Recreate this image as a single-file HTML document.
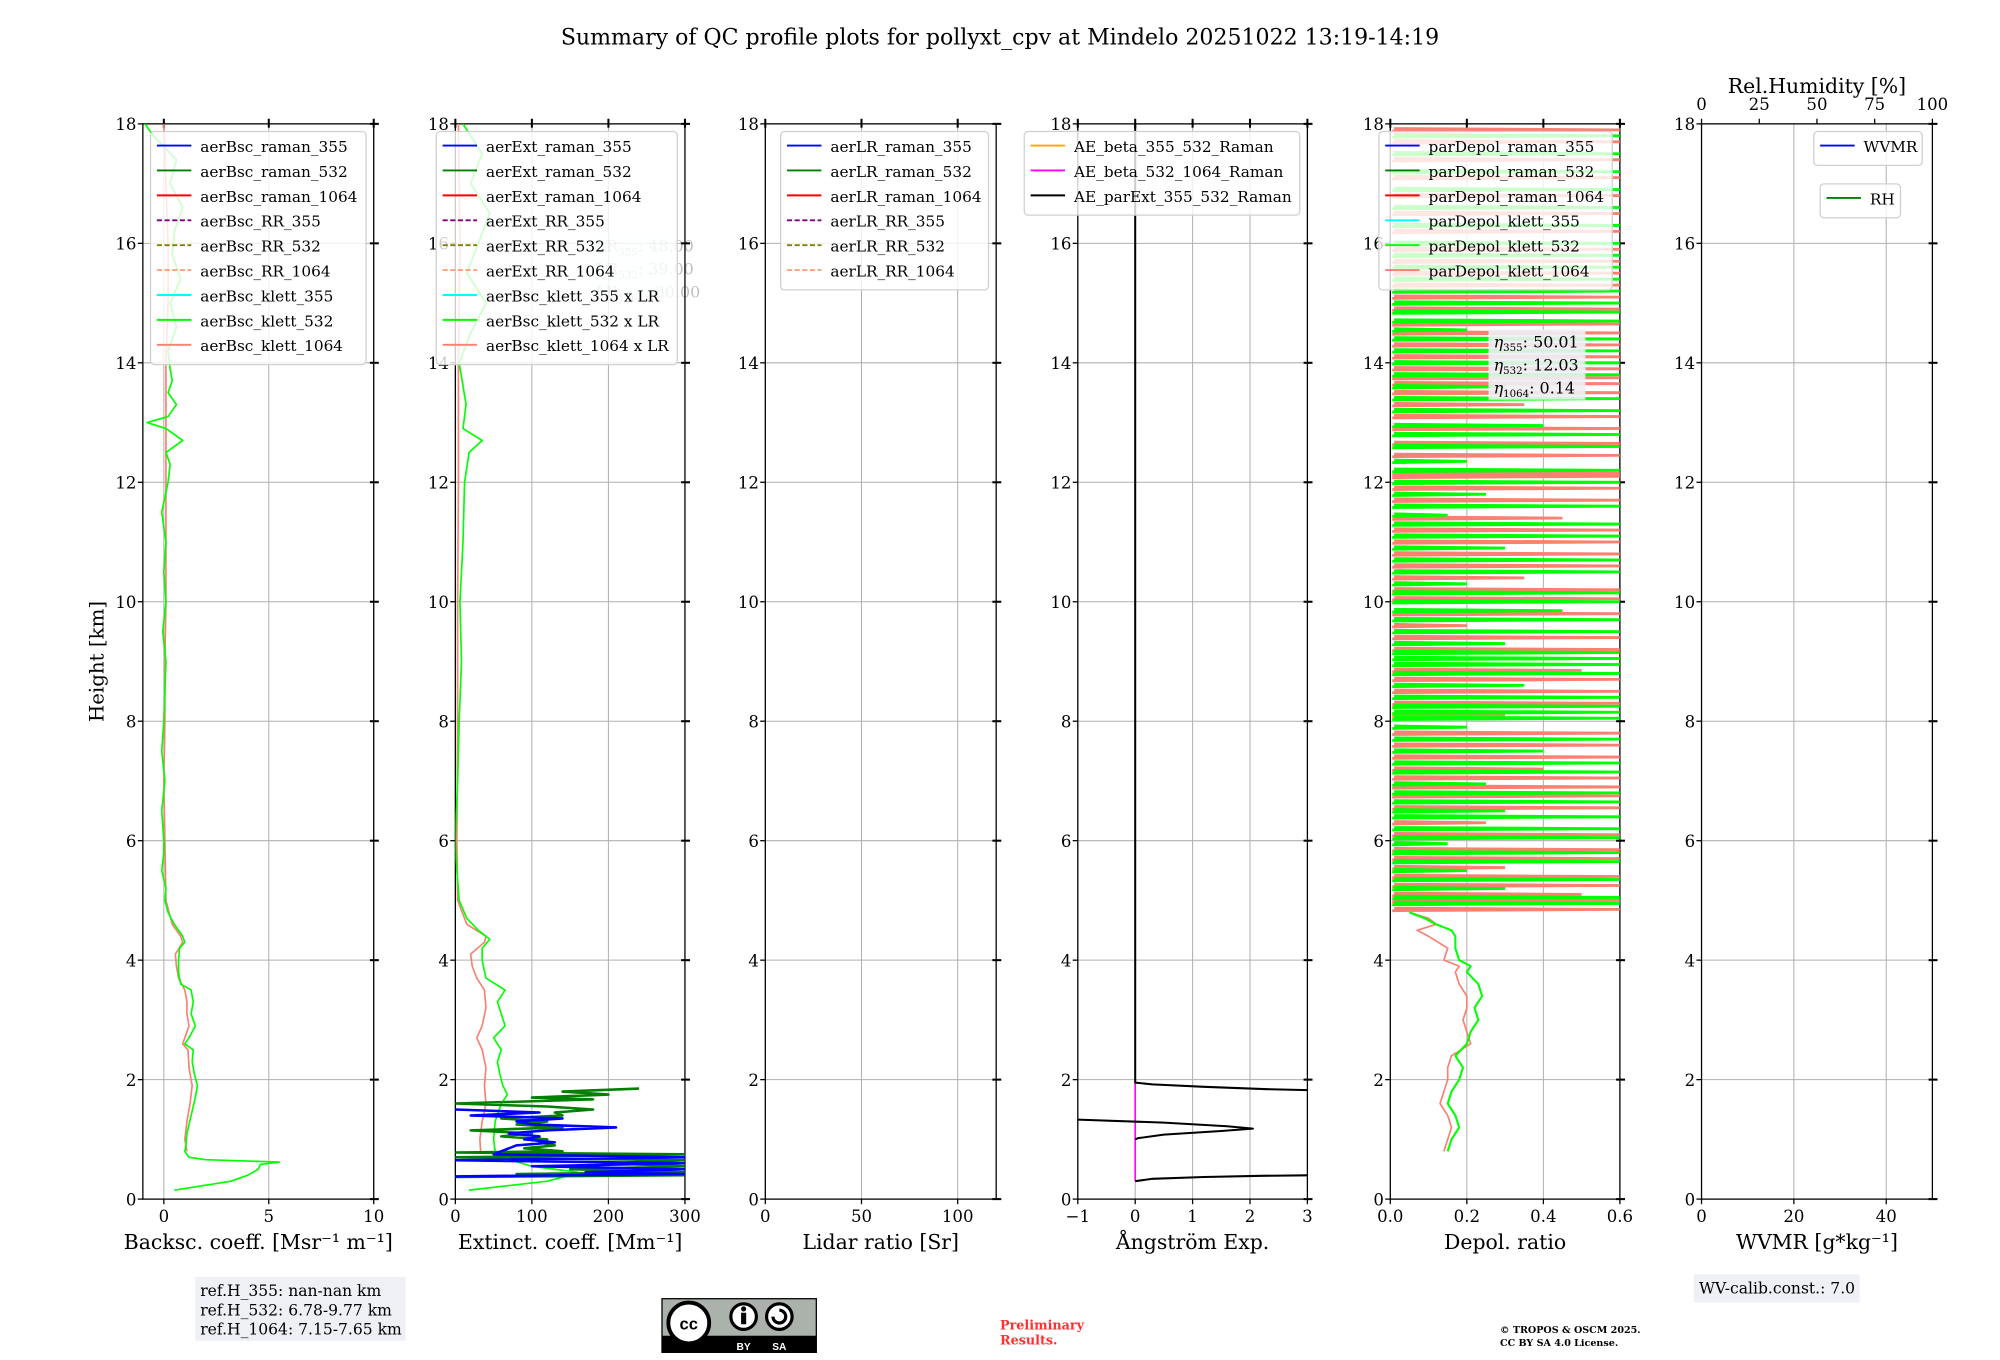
<!DOCTYPE html>
<html><head><meta charset="utf-8"><style>
html,body{margin:0;padding:0;background:#fff;width:2000px;height:1360px;overflow:hidden}
svg text{font-family:"DejaVu Serif","Liberation Serif",serif;fill:#000}
</style></head><body>
<svg id="fig" xmlns="http://www.w3.org/2000/svg" width="2000" height="1360" viewBox="0 0 1568 1065" preserveAspectRatio="none">
<rect x="0" y="0" width="1570" height="1070" fill="#fff"/>
<text x="784" y="35" font-size="17.3" text-anchor="middle">Summary of QC profile plots for pollyxt_cpv at Mindelo 20251022 13:19-14:19</text>
<text transform="translate(81,518) rotate(-90)" font-size="15.5" text-anchor="middle">Height [km]</text>
<g id="panels"></g>
<g>
<rect x="153" y="1000" width="165" height="50" fill="#eef0f5"/>
<text x="157" y="1015" font-size="12.2">ref.H_355: nan-nan km</text>
<text x="157" y="1030" font-size="12.2">ref.H_532: 6.78-9.77 km</text>
<text x="157" y="1045" font-size="12.2">ref.H_1064: 7.15-7.65 km</text>
</g>
<g>
<rect x="519" y="1017" width="121" height="42" fill="#aab2ab" stroke="#000" stroke-width="1"/>
<rect x="519" y="1046" width="121" height="13" fill="#000"/>
<circle cx="540" cy="1036" r="16" fill="#fff" stroke="#000" stroke-width="3"/>
<text x="540" y="1041" font-size="13" font-weight="bold" text-anchor="middle" style="font-family:'Liberation Sans',sans-serif">cc</text>
<circle cx="583" cy="1031" r="10" fill="#fff" stroke="#000" stroke-width="2.5"/>
<circle cx="583" cy="1025" r="2" fill="#000"/><rect x="581" y="1028" width="4" height="9" fill="#000"/>
<circle cx="611" cy="1031" r="10" fill="#fff" stroke="#000" stroke-width="2.5"/>
<path d="M606 1031 a5 5 0 1 0 5 -5" fill="none" stroke="#000" stroke-width="2.5"/>
<text x="583" y="1057" font-size="8" font-weight="bold" text-anchor="middle" style="fill:#fff;font-family:'Liberation Sans',sans-serif">BY</text>
<text x="611" y="1057" font-size="8" font-weight="bold" text-anchor="middle" style="fill:#fff;font-family:'Liberation Sans',sans-serif">SA</text>
</g>
<text x="784" y="1041" font-size="10" font-weight="bold" style="fill:#ff3030">Preliminary</text>
<text x="784" y="1053" font-size="10" font-weight="bold" style="fill:#ff3030">Results.</text>
<text x="1176" y="1044" font-size="7.5" font-weight="bold">© TROPOS &amp; OSCM 2025.</text>
<text x="1176" y="1054" font-size="7.5" font-weight="bold">CC BY SA 4.0 License.</text>
<g>
<rect x="1328" y="998" width="130" height="22" fill="#eef0f5"/>
<text x="1332" y="1013" font-size="12.2">WV-calib.const.: 7.0</text>
</g>
</svg>
<script>
// ---------- data ----------
const bsc532H=[0.15,0.3,0.4,0.5,0.58,0.62,0.66,0.7,0.8,0.9,1.1,1.4,1.7,1.9,2.1,2.3,2.5,2.6,2.7,2.9,3.1,3.3,3.5,3.6,3.8,4.0,4.2,4.3,4.4,4.6,4.8,5.0,5.2,5.5,5.8,6.0,6.5,7.0,7.5,8.0,8.5,9,9.5,10,10.5,11,11.5,12,12.3,12.5,12.7,12.8,12.9,13.0,13.1,13.3,13.5,13.7,13.9,14.2,14.6,15.0,15.4,15.8,16.2,16.6,17.0,17.4,17.8,18];
const bsc532V=[0.5,3.2,4.0,4.5,4.6,5.5,2.0,1.2,1.0,1.05,1.1,1.3,1.5,1.6,1.45,1.35,1.4,1.0,1.2,1.5,1.3,1.4,1.3,0.8,0.7,0.7,0.75,1.0,0.9,0.5,0.2,0.05,0.1,-0.1,0,0,-0.1,0.05,-0.1,0,0.05,0.1,-0.05,0.1,0,0.1,-0.1,0.2,0.3,0.1,0.9,0.5,0.1,-0.8,0.2,0.6,0.2,0.4,0.3,0.2,0.6,0.3,0.8,0.4,0.5,0.9,0.3,0.6,-0.5,-0.9];
const bsc1064H=[0.8,1.0,1.3,1.6,1.9,2.2,2.5,2.6,2.7,2.9,3.1,3.3,3.5,3.7,3.9,4.1,4.3,4.4,4.6,5.0,6,7,8,9,10,11,12,13,14,15,16,17,18];
const bsc1064V=[1.1,1.0,1.1,1.25,1.35,1.2,1.15,0.9,1.0,1.2,1.1,1.1,1.0,0.7,0.6,0.55,0.9,0.8,0.4,0.1,0.05,0,0.05,0.05,0.1,0.1,0.1,0.1,0.1,0.2,0.2,0.1,0.0];
const ext532H=[0.15,0.3,0.4,0.45,0.55,0.7,0.8,1.0,1.3,1.6,1.75,1.9,2.1,2.3,2.5,2.7,2.9,3.1,3.3,3.5,3.7,4.0,4.2,4.35,4.5,4.7,5.0,5.5,6,7,8,9,10,11,12,12.5,12.7,12.9,13.3,14,14.5,15,15.5,16,16.5,17,17.5,18];
const ext532V=[18,120,150,160,100,60,52,50,52,60,68,62,58,55,60,50,65,60,55,65,40,35,35,45,30,15,5,2,0,3,5,8,6,10,12,18,35,10,14,5,20,40,15,30,45,20,35,10];
const ext1064H=[0.8,1.0,1.3,1.6,1.9,2.2,2.5,2.7,2.9,3.2,3.5,3.7,3.9,4.1,4.3,4.4,4.6,5.0,6,8,10,12,14,16,18];
const ext1064V=[33,32,35,40,38,40,35,28,35,40,38,28,22,20,38,40,15,3,2,3,3,4,4,6,4];
const extR532H=[0.37,0.4,0.42,0.45,0.5,0.55,0.6,0.65,0.7,0.75,0.78,0.8,0.85,0.9,0.95,1.0,1.05,1.1,1.15,1.2,1.25,1.3,1.35,1.4,1.45,1.5,1.55,1.6,1.63,1.67,1.7,1.75,1.8,1.85];
const extR532V=[0,300,80,300,150,300,200,300,0,300,0,140,90,130,110,120,60,100,20,140,80,120,60,140,130,180,120,0,80,180,100,200,140,240];
const extR355H=[0.38,0.42,0.45,0.5,0.55,0.6,0.65,0.7,0.75,0.9,0.95,1.0,1.05,1.1,1.15,1.2,1.25,1.3,1.35,1.4,1.45,1.5];
const extR355V=[0,300,170,300,100,300,0,300,50,80,130,90,110,70,120,210,100,80,140,20,110,0];
const aeH=[18,1.95,1.92,1.88,1.84,1.82,null,1.33,1.28,1.22,1.18,1.14,1.08,1.02,1.0,null,0.3,0.34,0.37,0.39,0.4];
const aeV=[0,0,0.3,1.2,2.3,3.2,null,-1,0.5,1.6,2.05,1.5,0.5,0.05,0,null,0,0.3,1.2,2.2,3.2];
const aeMagH=[0.3,1.95];
const aeMagV=[0,0];
const dep532H=[0.8,1.0,1.2,1.4,1.6,1.8,2.0,2.2,2.4,2.6,2.8,3.0,3.2,3.4,3.6,3.8,3.9,4.0,4.2,4.4,4.5,4.6,4.7,4.8];
const dep532V=[0.15,0.16,0.18,0.17,0.15,0.16,0.18,0.19,0.17,0.2,0.21,0.23,0.22,0.24,0.23,0.2,0.21,0.18,0.17,0.17,0.16,0.12,0.09,0.05];
const dep1064H=[0.8,1.0,1.2,1.4,1.6,1.8,2.0,2.2,2.4,2.6,2.8,3.0,3.2,3.4,3.6,3.8,3.9,4.0,4.2,4.4,4.5,4.6,4.7,4.8];
const dep1064V=[0.14,0.15,0.16,0.15,0.13,0.14,0.15,0.15,0.16,0.21,0.2,0.19,0.2,0.2,0.18,0.17,0.18,0.14,0.15,0.1,0.07,0.12,0.1,0.05];
const bar532H=[4.95,5.05,5.2,5.35,5.5,5.65,5.8,5.95,6.05,6.2,6.4,6.5,6.65,6.8,6.95,7.15,7.3,7.5,7.7,7.9,8.05,8.15,8.25,8.4,8.6,8.8,8.95,9.05,9.15,9.3,9.5,9.7,9.85,10.0,10.15,10.3,10.5,10.7,10.9,11.1,11.3,11.45,11.6,11.8,12.0,12.2,12.35,12.6,12.8,12.95,13.2,13.4,13.6,13.8,14.0,14.2,14.4,14.55,14.7,14.85,15.0,15.2,15.4,15.6,15.8,16.0,16.3,16.6,16.9,17.2,17.5,17.8];
const bar532V=[0.6,0.6,0.3,0.6,0.2,0.6,0.6,0.15,0.6,0.6,0.6,0.3,0.6,0.6,0.25,0.6,0.6,0.4,0.6,0.2,0.6,0.6,0.6,0.6,0.35,0.6,0.6,0.6,0.6,0.3,0.6,0.6,0.45,0.6,0.6,0.2,0.6,0.6,0.3,0.6,0.6,0.15,0.6,0.25,0.6,0.6,0.2,0.6,0.6,0.4,0.6,0.6,0.3,0.6,0.6,0.6,0.6,0.2,0.6,0.6,0.6,0.6,0.6,0.6,0.6,0.6,0.6,0.6,0.6,0.6,0.6,0.6];
const bar1064H=[4.85,5.0,5.1,5.25,5.4,5.55,5.7,5.85,6.1,6.3,6.55,6.75,6.9,7.05,7.2,7.4,7.6,7.8,8.1,8.3,8.5,8.7,8.85,9.2,9.4,9.6,9.8,10.05,10.2,10.4,10.6,10.8,11.0,11.2,11.4,11.7,11.9,12.1,12.15,12.45,12.65,12.9,13.1,13.3,13.5,13.65,13.75,13.9,14.1,14.3,14.5,14.65,14.9,15.1,15.3,15.5,15.7,15.9,16.2,16.5,16.8,17.1,17.4,17.7,17.9];
const bar1064V=[0.6,0.6,0.5,0.6,0.6,0.3,0.6,0.6,0.6,0.25,0.6,0.6,0.6,0.6,0.4,0.6,0.6,0.6,0.3,0.6,0.6,0.6,0.5,0.6,0.6,0.2,0.6,0.6,0.6,0.35,0.6,0.6,0.6,0.6,0.45,0.6,0.6,0.6,0.6,0.6,0.6,0.6,0.6,0.35,0.6,0.6,0.6,0.6,0.6,0.6,0.6,0.6,0.6,0.6,0.6,0.6,0.6,0.6,0.6,0.6,0.6,0.6,0.6,0.6,0.6];
const yTicks=[0,2,4,6,8,10,12,14,16,18];
const rhTicks=[0,25,50,75,100];

// ---------- layout ----------
const NS="http://www.w3.org/2000/svg";
const Y0=939,Y1=97;
const panels=[
 {name:'backscatter',x0:112,x1:293,min:-1,max:10,ticks:[0,5,10],labels:['0','5','10'],xl:'Backsc. coeff. [Msr⁻¹ m⁻¹]'},
 {name:'extinction',x0:357,x1:537,min:0,max:300,ticks:[0,100,200,300],labels:['0','100','200','300'],xl:'Extinct. coeff. [Mm⁻¹]'},
 {name:'lidar-ratio',x0:600,x1:781,min:0,max:120,ticks:[0,50,100],labels:['0','50','100'],xl:'Lidar ratio [Sr]'},
 {name:'angstrom',x0:845,x1:1025,min:-1,max:3,ticks:[-1,0,1,2,3],labels:['−1','0','1','2','3'],xl:'Ångström Exp.'},
 {name:'depol',x0:1090,x1:1270,min:0,max:0.6,ticks:[0,0.2,0.4,0.6],labels:['0.0','0.2','0.4','0.6'],xl:'Depol. ratio'},
 {name:'wvmr',x0:1334,x1:1515,min:0,max:50,ticks:[0,20,40],labels:['0','20','40'],xl:'WVMR [g*kg⁻¹]'}
];
function yS(h){return Y0-(h/18)*(Y0-Y1);}
function xS(p,v){return p.x0+(v-p.min)/(p.max-p.min)*(p.x1-p.x0);}
const root=document.getElementById('panels');
function mk(tag,attrs,parent){const e=document.createElementNS(NS,tag);for(const k in attrs)e.setAttribute(k,attrs[k]);(parent||root).appendChild(e);return e;}
const defs=mk('defs',{});
panels.forEach((p,i)=>{const c=mk('clipPath',{id:'clip'+i},defs);mk('rect',{x:p.x0,y:Y1,width:p.x1-p.x0,height:Y0-Y1},c);});

function line(pi,H,V,color,name,w){
 const p=panels[pi];let d='';let pen=false;
 for(let k=0;k<H.length;k++){ if(H[k]===null){pen=false;continue;} d+=(pen?'L':'M')+xS(p,V[k]).toFixed(2)+' '+yS(H[k]).toFixed(2)+' ';pen=true;}
 const e=mk('path',{d:d,fill:'none',stroke:color,'stroke-width':w||1.3,'stroke-linejoin':'round','clip-path':'url(#clip'+pi+')'});
 
 
 return e;
}
function bars(pi,H,V,color,name){
 const p=panels[pi];let d='';
 for(let k=0;k<H.length;k++){d+='M'+xS(p,0.005).toFixed(2)+' '+(yS(H[k])+1).toFixed(2)+' L'+xS(p,V[k]).toFixed(2)+' '+yS(H[k]).toFixed(2)+' L'+xS(p,0.01).toFixed(2)+' '+(yS(H[k])-1).toFixed(2)+' ';}
 const e=mk('path',{d:d,fill:'none',stroke:color,'stroke-width':2.2,'clip-path':'url(#clip'+pi+')'});
 
 
}

// axes, grid, ticks
panels.forEach((p,i)=>{
 const g=mk('g',{});
 
 
 yTicks.forEach(t=>{const y=yS(t);
  mk('line',{x1:p.x0,x2:p.x1,y1:y,y2:y,stroke:'#b0b0b0','stroke-width':0.8},g);
  mk('line',{x1:p.x0-4,x2:p.x0,y1:y,y2:y,stroke:'#000','stroke-width':1},g);
  mk('line',{x1:p.x1-3,x2:p.x1+4,y1:y,y2:y,stroke:'#000','stroke-width':1.6},g);
  const tx=mk('text',{x:p.x0-5,y:y+5,'font-size':13,'text-anchor':'end'},g);tx.textContent=String(t);
 });
 p.ticks.forEach((t,k)=>{const x=xS(p,t);
  mk('line',{x1:x,x2:x,y1:Y1,y2:Y0,stroke:'#b0b0b0','stroke-width':0.8},g);
  mk('line',{x1:x,x2:x,y1:Y0,y2:Y0+4,stroke:'#000','stroke-width':1},g);
  if(i!==5) mk('line',{x1:x,x2:x,y1:Y1-4,y2:Y1+3,stroke:'#000','stroke-width':1.6},g);
  const tx=mk('text',{x:x,y:Y0+18,'font-size':13,'text-anchor':'middle'},g);tx.textContent=p.labels[k];
 });
 mk('rect',{x:p.x0,y:Y1,width:p.x1-p.x0,height:Y0-Y1,fill:'none',stroke:'#000','stroke-width':1},g);
 const xl=mk('text',{x:(p.x0+p.x1)/2,y:Y0+39,'font-size':16,'text-anchor':'middle'},g);xl.textContent=p.xl;
 
 
});
// RH top axis
const p6=panels[5];
rhTicks.forEach(t=>{const x=p6.x0+t/100*(p6.x1-p6.x0);
 mk('line',{x1:x,x2:x,y1:Y1-4,y2:Y1,stroke:'#000','stroke-width':1});
 const tx=mk('text',{x:x,y:Y1-11,'font-size':13,'text-anchor':'middle'});tx.textContent=String(t);
});
const rht=mk('text',{x:(p6.x0+p6.x1)/2,y:73,'font-size':16,'text-anchor':'middle'});rht.textContent='Rel.Humidity [%]';



// series
line(0,bsc1064H,bsc1064V,'#fa8072','bsc-klett-1064');
line(0,bsc532H,bsc532V,'#00ff00','bsc-klett-532');
line(1,ext1064H,ext1064V,'#fa8072','ext-klett-1064');
line(1,ext532H,ext532V,'#00ff00','ext-klett-532');
line(1,extR532H,extR532V,'#008000','ext-raman-532',2);
line(1,extR355H,extR355V,'#0000ff','ext-raman-355',2);
line(3,aeMagH,aeMagV,'#ff00ff','ae-beta-532-1064');
line(3,aeH,aeV,'#000000','ae-parext-355-532',1.6);
bars(4,bar1064H,bar1064V,'#fa8072','depol-klett-1064-noise');
bars(4,bar532H,bar532V,'#00ff00','depol-klett-532-noise');
line(4,dep1064H,dep1064V,'#fa8072','depol-klett-1064');
line(4,dep532H,dep532V,'#00ff00','depol-klett-532',1.6);

// info boxes
function infoBox(x,y,w,h,lines,name,op){
 const g=mk('g',{opacity:op||1});
 
 
 mk('rect',{x:x,y:y,width:w,height:h,fill:'#eef0f5',opacity:0.9},g);
 lines.forEach((l,k)=>{const t=mk('text',{x:x+4,y:y+14+k*18,'font-size':12.5},g);t.innerHTML=l;});
}
infoBox(463,183,68,50,['LR<tspan font-size="8" dy="3">355</tspan><tspan dy="-3">: 48.00</tspan>','LR<tspan font-size="8" dy="3">532</tspan><tspan dy="-3">: 39.00</tspan>','LR<tspan font-size="8" dy="3">1064</tspan><tspan dy="-3">: 30.00</tspan>'],'lr-info-box',0.25);
infoBox(1167,258,76,55,['<tspan font-style="italic">η</tspan><tspan font-size="8" dy="3">355</tspan><tspan dy="-3">: 50.01</tspan>','<tspan font-style="italic">η</tspan><tspan font-size="8" dy="3">532</tspan><tspan dy="-3">: 12.03</tspan>','<tspan font-style="italic">η</tspan><tspan font-size="8" dy="3">1064</tspan><tspan dy="-3">: 0.14</tspan>'],'eta-info-box');

// legends
function legend(x,y,w,entries,name){
 const g=mk('g',{});
 
 
 const h=entries.length*19.5+7;
 mk('rect',{x:x,y:y,width:w,height:h,rx:3,fill:'#fff','fill-opacity':0.8,stroke:'#d0d0d0','stroke-width':1},g);
 entries.forEach((e,k)=>{const yy=y+11+k*19.5;
  const ln=mk('line',{x1:x+5,x2:x+32,y1:yy,y2:yy,stroke:e[1],'stroke-width':1.5},g);
  if(e[2]) ln.setAttribute('stroke-dasharray','4,2');
  const t=mk('text',{x:x+39,y:yy+5,'font-size':12},g);t.textContent=e[0];
 });
}
const dash=1;
legend(118,103,169,[['aerBsc_raman_355','#0000ff'],['aerBsc_raman_532','#008000'],['aerBsc_raman_1064','#ff0000'],['aerBsc_RR_355','#800080',dash],['aerBsc_RR_532','#808000',dash],['aerBsc_RR_1064','#ffa07a',dash],['aerBsc_klett_355','#00ffff'],['aerBsc_klett_532','#00ff00'],['aerBsc_klett_1064','#fa8072']],'backscatter-legend');
legend(342,103,189,[['aerExt_raman_355','#0000ff'],['aerExt_raman_532','#008000'],['aerExt_raman_1064','#ff0000'],['aerExt_RR_355','#800080',dash],['aerExt_RR_532','#808000',dash],['aerExt_RR_1064','#ffa07a',dash],['aerBsc_klett_355 x LR','#00ffff'],['aerBsc_klett_532 x LR','#00ff00'],['aerBsc_klett_1064 x LR','#fa8072']],'extinction-legend');
legend(612,103,163,[['aerLR_raman_355','#0000ff'],['aerLR_raman_532','#008000'],['aerLR_raman_1064','#ff0000'],['aerLR_RR_355','#800080',dash],['aerLR_RR_532','#808000',dash],['aerLR_RR_1064','#ffa07a',dash]],'lidar-ratio-legend');
legend(803,103,216,[['AE_beta_355_532_Raman','#ffa500'],['AE_beta_532_1064_Raman','#ff00ff'],['AE_parExt_355_532_Raman','#000000']],'angstrom-legend');
legend(1081,103,183,[['parDepol_raman_355','#0000ff'],['parDepol_raman_532','#008000'],['parDepol_raman_1064','#ff0000'],['parDepol_klett_355','#00ffff'],['parDepol_klett_532','#00ff00'],['parDepol_klett_1064','#fa8072']],'depol-legend');
legend(1422,103,85,[['WVMR','#0000ff']],'wvmr-legend');
legend(1427,144,63,[['RH','#008000']],'rh-legend');
</script>
</body></html>
